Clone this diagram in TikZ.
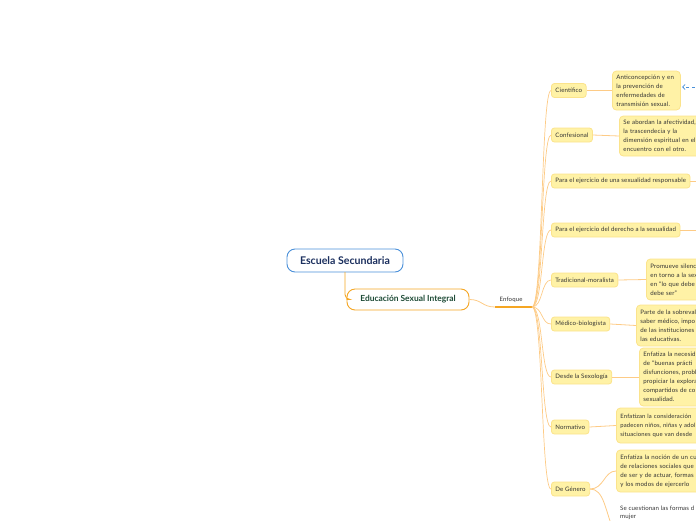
\documentclass[tikz,border=0pt]{standalone}
\usepackage{fontspec}
\setmainfont{Lato}
\newfontfamily\smallfont[LetterSpace=2.5]{Lato}
\usetikzlibrary{arrows.meta}
\definecolor{boxfill}{HTML}{FFF2A6}
\definecolor{boxdraw}{HTML}{FBE38C}
\definecolor{lineor}{HTML}{FDCB86}
\definecolor{darkor}{HTML}{F5A623}
\definecolor{rootblue}{HTML}{4A90D9}
\definecolor{rootnavy}{HTML}{1B2F5E}
\definecolor{esigreen}{HTML}{1E4B36}
\definecolor{txt}{HTML}{333333}
\tikzset{
  branchbox/.style={draw=boxdraw, fill=boxfill, rounded corners=3pt, anchor=west,
    font=\smallfont\fontsize{6.1}{9}\selectfont, text=txt, inner xsep=4pt, inner ysep=0pt,
    minimum height=14pt, line width=0.8pt},
  leafbox/.style={draw=boxdraw, fill=boxfill, rounded corners=4pt, anchor=west,
    font=\smallfont\fontsize{6.1}{9}\selectfont, text=txt, inner xsep=4pt, inner ysep=3pt,
    align=left, line width=0.8pt},
  plainleaf/.style={anchor=west, font=\smallfont\fontsize{6.1}{8}\selectfont, text=txt,
    inner sep=0pt, align=left},
  conn/.style={draw=lineor, line width=0.8pt},
  fan/.style={draw=lineor, line width=0.7pt},
}
\begin{document}
\begin{tikzpicture}[x=1pt,y=-1pt]
\useasboundingbox (0,0) rectangle (696,520);
\clip (0,0) rectangle (696,520);

% root and main topic
\node[draw=rootblue, fill=white, rounded corners=8pt, line width=0.9pt,
  minimum width=116pt, minimum height=23pt, inner sep=0pt,
  font=\fontsize{10.6}{12}\selectfont\bfseries, text=rootnavy] (root) at (345,260.5) {Escuela Secundaria};
\node[draw=darkor, fill=white, rounded corners=8pt, line width=0.9pt,
  minimum width=122pt, minimum height=21pt, inner sep=0pt,
  font=\fontsize{8.4}{10}\selectfont\bfseries, text=esigreen] (esi) at (408,299.5) {Educación Sexual Integral};

\coordinate (rsb) at (345,272);
\draw[draw=darkor, line width=0.9pt, rounded corners=5pt] (rsb) |- (esi.west);

% Enfoque
\coordinate (hubA) at (495,307);
\coordinate (hub) at (532,307);
\draw[conn] (esi.east) .. controls (482,299.5) and (482,307) .. (hubA);
\draw[draw=darkor, line width=1.4pt] (hubA) -- (hub);
\node[font=\smallfont\fontsize{6}{7}\selectfont, text=txt, inner sep=0pt] (enf) at (511,299.5) {Enfoque};

% branch nodes
\node[branchbox] (b1) at (551,90.5) {Científico};
\node[branchbox] (b2) at (551,135) {Confesional};
\node[branchbox] (b3) at (551,181) {Para el ejercicio de una sexualidad responsable};
\node[branchbox] (b4) at (551,230) {Para el ejercicio del derecho a la sexualidad};
\node[branchbox] (b5) at (551,280) {Tradicional-moralista};
\node[branchbox] (b6) at (551,324) {Médico-biologista};
\node[branchbox] (b7) at (551,377) {Desde la Sexología};
\node[branchbox] (b8) at (551,427) {Normativo};
\node[branchbox] (b9) at (551,489) {De Género};

\foreach \b in {b1,b2,b3,b4,b5,b6,b7,b8,b9}{
  \draw[fan] (hub) .. controls (543,307) and (541,0|-\b.west) .. (\b.west);
}

% leaf nodes
\node[leafbox, text width=60pt, minimum height=39pt] (l1) at (612,90.5)
  {Anticoncepción y en\\la prevención de\\enfermedades de\\transmisión sexual.};
\node[leafbox, text width=80pt, minimum height=40pt] (l2) at (619,136)
  {Se abordan la afectividad,\\la trascendecia y la\\dimensión espiritual en el\\encuentro con el otro.};
\node[leafbox, text width=60pt, minimum height=41pt] (l5) at (646,279.5)
  {Promueve silenc\\en torno a la sex\\en “lo que debe\\debe ser”};
\node[leafbox, text width=70pt, minimum height=41pt] (l6) at (636,325.5)
  {Parte de la sobreval\\saber médico, impo\\de las instituciones\\las educativas.};
\node[leafbox, text width=70pt, minimum height=58pt] (l7) at (639,377)
  {Enfatiza la necesid\\de “buenas prácti\\disfunciones, probl\\propiciar la explora\\compartidos de co\\sexualidad.};
\node[leafbox, text width=90pt, minimum height=35pt, font=\smallfont\fontsize{5.9}{9}\selectfont] (l8) at (616,425.5)
  {Enfatizan la consideración\\padecen niños, niñas y adol\\situaciones que van desde};
\node[leafbox, text width=90pt, minimum height=42pt] (l9) at (616,471)
  {Enfatiza la noción de un cu\\de relaciones sociales que\\de ser y de actuar, formas\\y los modos de ejercerlo};
\node[plainleaf] (l10) at (620,513) {Se cuestionan las formas d\\mujer};

\draw[conn] (b1.east) -- (l1.west);
\draw[conn] (b2.east) -- (l2.west);
\coordinate (e3) at (700,181);
\coordinate (e4) at (700,230);
\draw[conn] (b3.east) -- (e3);
\draw[conn] (b4.east) -- (e4);
\draw[conn] (b5.east) -- (l5.west);
\draw[conn] (b6.east) -- (l6.west);
\draw[conn] (b7.east) -- (l7.west);
\draw[conn] (b8.east) -- (l8.west);
\draw[conn] (b9.east) .. controls (604,489) and (604,471) .. (l9.west);
\coordinate (g2) at (614,532);
\draw[conn] (b9.east) .. controls (604,489) and (605,510) .. (g2);

% blue dashed relation
\coordinate (rel) at (700,87);
\coordinate (relend) at (682,87);
\draw[draw=rootblue, line width=0.8pt, dash pattern=on 3pt off 2.5pt, -{Straight Barb[length=2.5pt,width=5pt]}] (rel) -- (relend);
\end{tikzpicture}
\end{document}
